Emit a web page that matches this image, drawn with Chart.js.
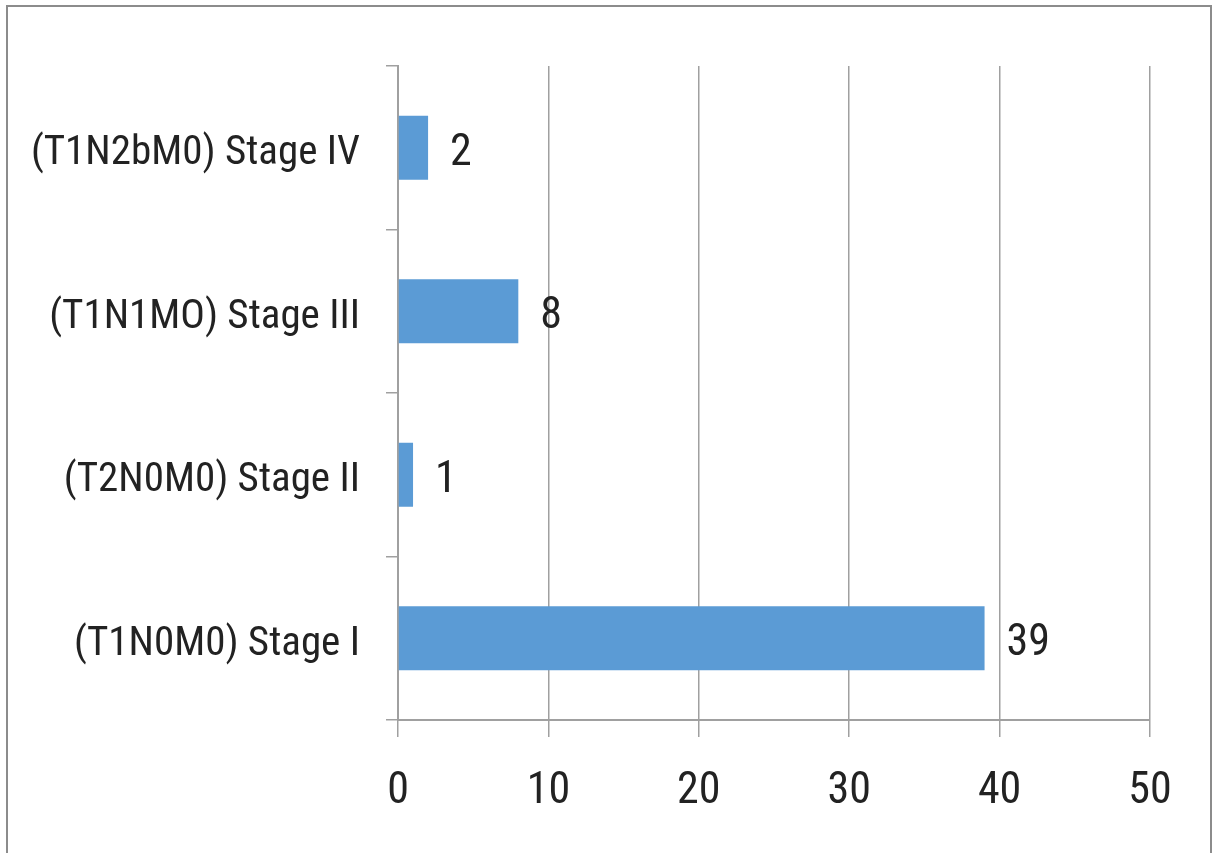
<!DOCTYPE html>
<html>
<head>
<meta charset="utf-8">
<script src="https://cdn.jsdelivr.net/npm/chart.js@4/dist/chart.umd.min.js"></script>
<style>
  html, body { margin: 0; padding: 0; background: #fff; }
  body { width: 1221px; height: 853px; overflow: hidden; position: relative; }
  #frame {
    position: absolute; left: 6px; top: 5px; width: 1206px; height: 870px;
    border: 2px solid #8c8c8c; box-sizing: border-box;
  }
  #wrap { position: absolute; left: 0; top: 0; width: 1221px; height: 853px; }
</style>
</head>
<body>
<div id="frame"></div>
<div id="wrap"><canvas id="chart" width="1221" height="853"></canvas></div>
<script>
// TNM stages, listed top to bottom
const categories = [
  '(T1N2bM0) Stage IV',
  '(T1N1MO) Stage III',
  '(T2N0M0) Stage II',
  '(T1N0M0) Stage I'
];
const patientCounts = [2, 8, 1, 39];
const axisTicks = [0, 10, 20, 30, 40, 50];

const FONT = "'Liberation Sans Narrow', 'Roboto Condensed', 'Liberation Sans', sans-serif";
const AXIS_GREY = '#a0a0a0';
const TEXT = '#222';

// writes each bar's value just past its end
const valueLabels = {
  id: 'valueLabels',
  afterDatasetsDraw(chart) {
    const ctx = chart.ctx;
    const meta = chart.getDatasetMeta(0);
    ctx.save();
    ctx.font = '44px ' + FONT;
    ctx.fillStyle = TEXT;
    ctx.textAlign = 'left';
    ctx.textBaseline = 'middle';
    meta.data.forEach((bar, i) => {
      ctx.fillText(String(patientCounts[i]), bar.x + 22, bar.y + 6);
    });
    ctx.restore();
  }
};

new Chart(document.getElementById('chart'), {
  type: 'bar',
  data: {
    labels: categories,
    datasets: [{
      data: patientCounts,
      backgroundColor: '#5b9bd5',
      borderWidth: 0,
      barPercentage: 0.6,
      categoryPercentage: 0.65
    }]
  },
  options: {
    indexAxis: 'y',
    responsive: false,
    animation: false,
    events: [],
    layout: { padding: { left: 0, right: 71, top: 66, bottom: 0 } },
    plugins: {
      legend: { display: false },
      tooltip: { enabled: false }
    },
    scales: {
      x: {
        min: 0,
        max: 50,
        afterBuildTicks(scale) {
          scale.ticks = axisTicks.map(v => ({ value: v }));
        },
        afterFit(scale) { scale.height = 853 - 720; },
        grid: {
          color: AXIS_GREY,
          lineWidth: 1.5,
          tickLength: 17,
          drawOnChartArea: true
        },
        border: { display: true, color: AXIS_GREY, width: 2 },
        ticks: {
          padding: 29,
          color: TEXT,
          font: { family: FONT, size: 44 }
        }
      },
      y: {
        afterFit(scale) { scale.width = 398; },
        grid: {
          offset: true,
          drawOnChartArea: false,
          color: AXIS_GREY,
          lineWidth: 1.5,
          tickLength: 12
        },
        border: { display: true, color: AXIS_GREY, width: 2 },
        ticks: {
          padding: 26,
          labelOffset: 6,
          color: TEXT,
          font: { family: FONT, size: 41 }
        }
      }
    }
  },
  plugins: [valueLabels]
});
</script>
</body>
</html>
